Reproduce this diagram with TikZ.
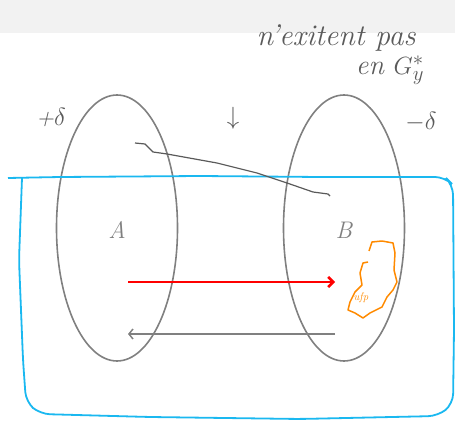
\documentclass[tikz,border=0pt]{standalone}
\usepackage{fontspec}
\usetikzlibrary{shapes.geometric,arrows.meta}
\definecolor{penblue}{HTML}{1AB8F0}
\definecolor{penorange}{HTML}{FF8A00}
\definecolor{ink}{HTML}{5A5A5A}
\begin{document}
\begin{tikzpicture}[x=1pt,y=-1pt]
  \path[use as bounding box] (0,0) rectangle (455,422);
  \fill[black!5] (0,0) rectangle (455,33);

  % the two sets and their names
  \tikzset{set/.style={ellipse,draw=black!50,line width=1.6pt,minimum width=121pt,minimum height=266pt,inner sep=0pt}}
  \node[set] (setA) at (117,228) {};
  \node[set] (setB) at (344,228) {};
  \node[text=black!50,font=\fontsize{24}{24}\selectfont\itshape] (nameA) at (117,230) {A};
  \node[text=black!50,font=\fontsize{24}{24}\selectfont\itshape] (nameB) at (344,230) {B};

  \coordinate (redS) at (128,282);
  \coordinate (redT) at (335,282);
  \coordinate (backS) at (335,334);
  \coordinate (backT) at (128,334);
  \draw[red,line width=2.6pt,-{Straight Barb[length=5pt,width=10pt]}] (redS) -- (redT);
  \draw[black!50,line width=1.5pt,-{Straight Barb[length=4pt,width=10pt]}] (backS) -- (backT);

  % pen annotations
  \draw[penblue,line width=1.8pt,rounded corners=10pt]
    (8,178) -- (60,177) -- (200,176) -- (320,177) -- (445,177) -- (453,185)
    -- (454,330) -- (453,404) -- (438,416) -- (300,419) -- (150,417) -- (40,414)
    -- (26,402) -- (23,360) -- (19,260) -- (22,178);
  \draw[ink,line width=1.2pt,line join=round]
    (135,143) -- (145,144) -- (153,152) -- (167,154) -- (217,163) -- (257,173)
    -- (287,183) -- (313,192) -- (328,194) -- (330,196);
  \draw[penorange,line width=1.5pt,line join=round]
    (369,251) -- (372,242) -- (382,241) -- (393,243) -- (395,253) -- (394,270)
    -- (397,282) -- (393,290) -- (387,297) -- (382,307) -- (370,313) -- (363,318)
    -- (355,313) -- (348,310) -- (350,302) -- (355,292) -- (362,285) -- (360,273)
    -- (363,263) -- (368,262);
  \node[text=penorange,font=\fontsize{11}{11}\selectfont\itshape] (mark) at (361,298) {ufp};

  \tikzset{pen/.style={text=ink,font=\fontsize{24}{24}\selectfont\itshape}}
  \node[pen] (plusd) at (51,117) {+$\delta$};
  \node[pen] (minusd) at (421,122) {$-\delta$};
  \node[pen,font=\fontsize{34}{34}\selectfont] (down) at (233,118) {$\downarrow$};
  \node[pen,font=\fontsize{30}{30}\selectfont\itshape] (note1) at (336,38) {n'exitent pas};
  \node[pen,font=\fontsize{28}{28}\selectfont\itshape] (note2) at (390,70) {en $G_y^{*}$};
\end{tikzpicture}
\end{document}
